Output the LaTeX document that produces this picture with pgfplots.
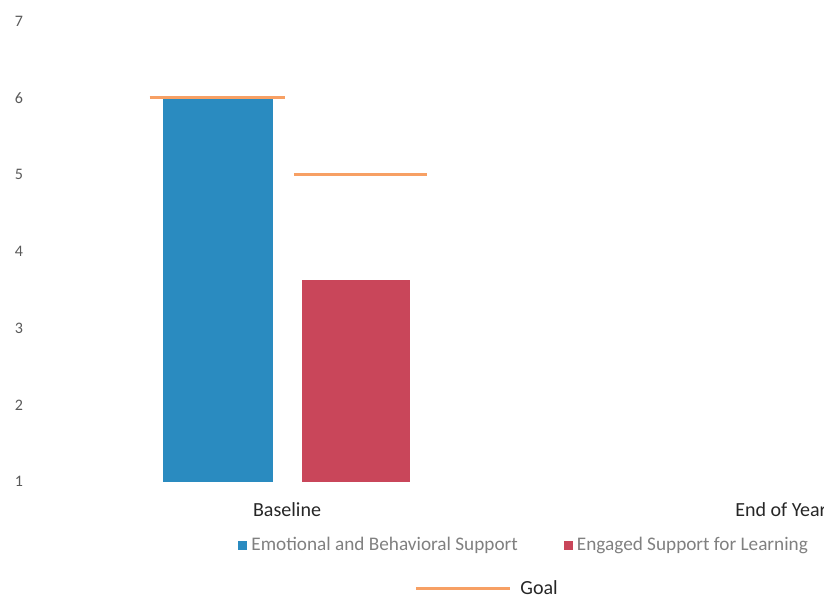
\documentclass[border=0pt]{standalone}
\usepackage{pgfplots}
\pgfplotsset{compat=1.18}
\usepackage{fontspec}
\setmainfont{Carlito}
\definecolor{barblue}{RGB}{42,139,192}
\definecolor{barred}{RGB}{201,70,90}
\definecolor{goalorange}{RGB}{247,160,100}
\definecolor{ticktxt}{RGB}{89,89,89}
\definecolor{legtxt}{RGB}{128,128,128}
\begin{document}
\begin{tikzpicture}
\begin{axis}[
  name=main,
  scale only axis,
  width=391.5pt, height=230pt,
  xmin=-0.5, xmax=1.087,
  ymin=1, ymax=7,
  ytick={1,2,3,4,5,6,7},
  xtick={0,1},
  xticklabels={Baseline,End of Year},
  axis line style={draw=none},
  major tick length=0pt,
  /pgf/number format/assume math mode=true,
  yticklabel style={font=\fontsize{8}{9}\selectfont, text=ticktxt, anchor=east, xshift=-5pt},
  xticklabel style={font=\fontsize{10}{12}\selectfont, text=black!85, yshift=-7pt},
  legend columns=2,
  legend style={draw=none, fill=none, at={(axis cs:0.482,1)}, anchor=center, yshift=-32pt,
    font=\fontsize{9.6}{11}\selectfont, text=legtxt,
    /tikz/every even column/.append style={column sep=21pt}},
  legend image code/.code={\fill[#1] (0pt,-2.25pt) rectangle (4.5pt,2.25pt);},
]
\addplot[ybar, bar width=55pt, bar shift=-34.3pt, fill=barblue, draw=none] coordinates {(0,6)};
\addlegendentry{Emotional and Behavioral Support}
\addplot[ybar, bar width=54pt, bar shift=34.3pt, fill=barred, draw=none] coordinates {(0,3.62)};
\addlegendentry{Engaged Support for Learning}
\addplot[goalorange, line width=1.5pt, forget plot] coordinates {(-0.278,6) (-0.004,6)};
\addplot[goalorange, line width=1.5pt, forget plot] coordinates {(0.014,5) (0.284,5)};
\coordinate (bl) at (rel axis cs:0,0);
\coordinate (tr) at (rel axis cs:1,1);
\end{axis}
\begin{axis}[
  at={(main.south west)}, anchor=south west,
  scale only axis,
  width=391.5pt, height=230pt,
  xmin=-0.5, xmax=1.087,
  ymin=1, ymax=7,
  hide axis,
  legend style={draw=none, fill=none, at={(axis cs:0.412,1)}, anchor=center, yshift=-53.5pt,
    font=\fontsize{10}{12}\selectfont, text=black!85,
    nodes={inner xsep=4.5pt}},
  legend image code/.code={\draw[#1] (0pt,0pt) -- (47pt,0pt);},
]
\addlegendimage{goalorange, line width=1.5pt}
\addlegendentry{Goal}
\end{axis}
\pgfresetboundingbox
\path[use as bounding box] ([xshift=-20pt,yshift=-59pt]bl) rectangle ([yshift=10.5pt]tr);
\end{tikzpicture}
\end{document}
